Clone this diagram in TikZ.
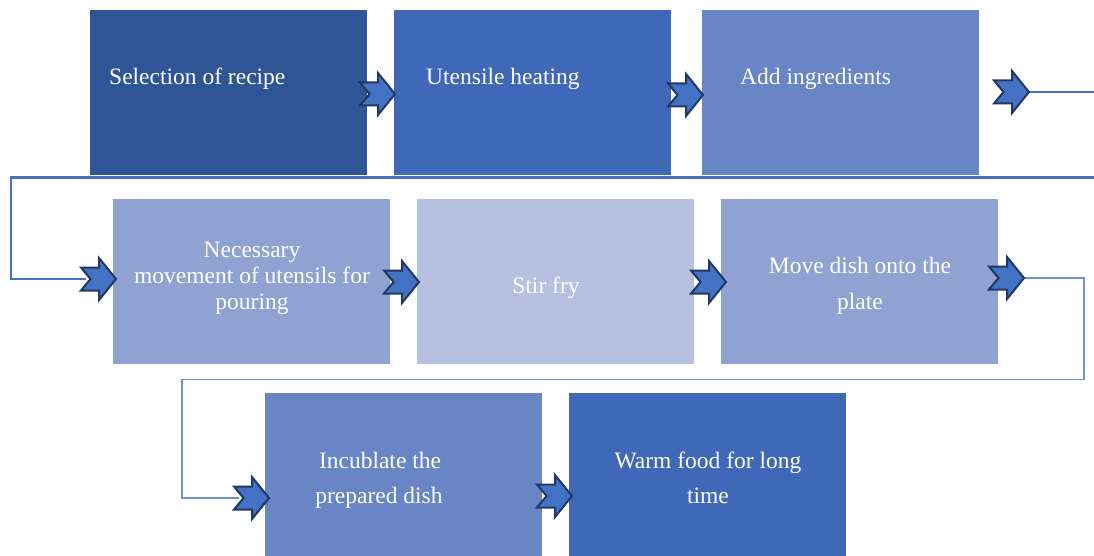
\documentclass[tikz,border=0pt]{standalone}
\usepackage{fontspec}
\setmainfont{Liberation Serif}
\definecolor{boxA}{HTML}{2F5597}
\definecolor{boxB}{HTML}{4068B8}
\definecolor{boxC}{HTML}{6886C6}
\definecolor{boxD}{HTML}{8FA2D2}
\definecolor{boxE}{HTML}{B6C1E1}
\definecolor{wireblue}{HTML}{4472C4}
\definecolor{wirelight}{HTML}{7092D4}
\definecolor{arrowfill}{HTML}{4472C4}
\definecolor{arrowedge}{HTML}{1F3864}
\begin{document}
\begin{tikzpicture}[x=1pt,y=-1pt,
  stepbox/.style={draw=none, inner sep=0pt, minimum width=277pt, minimum height=165pt, anchor=north west},
  lbl/.style={text=white, font=\fontsize{23.5}{28}\selectfont, inner sep=0pt, anchor=base},
  lblw/.style={lbl, anchor=base west},
  wire/.style={draw=wireblue, line width=2.5pt, line join=miter},
  thinwire/.style={draw=wirelight, line width=1.6pt, line join=miter},
  notcharrow/.pic={
    \filldraw[fill=arrowfill, draw=arrowedge, line width=2pt, line join=miter]
      (-35,-11.5) -- (-17,-11.5) -- (-17,-21) -- (0,0) -- (-17,21) -- (-17,11.5)
      -- (-35,11.5) -- (-25.5,0) -- cycle;
    \coordinate (-tip) at (0,0);
    \coordinate (-tail) at (-35,0);
  }]
\clip (0,0) rectangle (1094,556);
\fill[white] (0,0) rectangle (1094,556);

% process boxes
\node[stepbox, fill=boxA] (b1) at (90,10) {};
\node[stepbox, fill=boxB] (b2) at (394,10) {};
\node[stepbox, fill=boxC] (b3) at (702,10) {};
\node[stepbox, fill=boxD] (b4) at (113,199) {};
\node[stepbox, fill=boxE] (b5) at (417,199) {};
\node[stepbox, fill=boxD] (b6) at (721,199) {};
\node[stepbox, fill=boxC] (b7) at (265,393) {};
\node[stepbox, fill=boxB] (b8) at (569,393) {};

% arrow anchors and wrap-around corners
\coordinate (p1) at (395,94);
\coordinate (p2) at (703,95);
\coordinate (p3) at (1029,92);
\coordinate (p4) at (116,279);
\coordinate (p5) at (419,282);
\coordinate (p6) at (726,282);
\coordinate (p7) at (1024,278);
\coordinate (p8) at (269,498);
\coordinate (p9) at (572,496);
\coordinate (ext) at (1110,177.5);
\coordinate (lft) at (11,177.5);
\coordinate (rgt) at (1084,379.5);
\coordinate (low) at (182,379.5);

% row-to-row connectors, drawn beneath the arrows
\draw[wire] (p3) -| (ext) -- (lft) |- ([xshift=-30pt]p4);
\draw[thinwire] (p7) -| (rgt) -- (low) |- ([xshift=-30pt]p8);

% block arrows
\pic (a1) at (p1) {notcharrow};
\pic (a2) at (p2) {notcharrow};
\pic (a3) at (p3) {notcharrow};
\pic (a4) at (p4) {notcharrow};
\pic (a5) at (p5) {notcharrow};
\pic (a6) at (p6) {notcharrow};
\pic (a7) at (p7) {notcharrow};
\pic (a8) at (p8) {notcharrow};
\pic (a9) at (p9) {notcharrow};

% labels
\node[lblw] (t1) at (109,85) {Selection of recipe};
\node[lblw] (t2) at (426,85) {Utensile heating};
\node[lblw] (t3) at (740,85) {Add ingredients};
\node[lbl] (t4a) at (252,257) {Necessary};
\node[lbl] (t4b) at (252,283) {movement of utensils for};
\node[lbl] (t4c) at (252,309) {pouring};
\node[lbl] (t5) at (546,293) {Stir fry};
\node[lbl] (t6a) at (860,273) {Move dish onto the};
\node[lbl] (t6b) at (860,309) {plate};
\node[lbl] (t7a) at (380,468) {Incublate the};
\node[lbl] (t7b) at (379,503) {prepared dish};
\node[lbl] (t8a) at (708,468) {Warm food for long};
\node[lbl] (t8b) at (708,503) {time};
\end{tikzpicture}
\end{document}
